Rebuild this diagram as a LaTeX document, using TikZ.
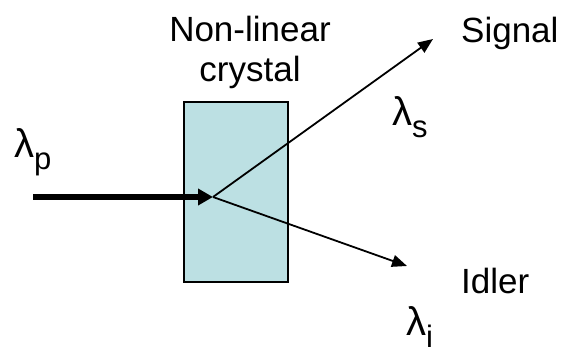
\documentclass[tikz,border=0pt]{standalone}
\usepackage{fontspec}
\setmainfont{Liberation Sans}
\usetikzlibrary{arrows.meta, positioning}

\definecolor{crystalfill}{RGB}{188,224,227}
\newcommand{\lam}[1]{{\fontsize{40}{40}\selectfont λ}\raisebox{-12pt}{#1}}

\begin{document}
\begin{tikzpicture}[
    x=1pt, y=-1pt,
    crystal/.style={rectangle, draw, fill=crystalfill, line width=1.5pt, minimum width=104pt, minimum height=180pt},
    label/.style={inner sep=0pt, anchor=base west, font=\fontsize{35}{40}\selectfont},
    wavelength/.style={inner sep=0pt, anchor=base west, font=\fontsize{31}{31}\selectfont},
    pump/.style={-{Triangle[length=15pt, width=16pt]}, line width=6pt},
    beam/.style={-{Triangle[length=15pt, width=12pt]}, line width=1.8pt}
]
\useasboundingbox (0,0) rectangle (565,354);

% Define nodes
\node[crystal] (crystal) at (236,192) {};
\node[inner sep=0pt, anchor=north, align=center, font=\fontsize{35}{40}\selectfont] (name) at (250,16) {Non-linear\\crystal};
\node[label] (signal) at (461,42) {Signal};
\node[label] (idler) at (461,293) {Idler};
\node[wavelength] (lp) at (14,157) {\lam{p}};
\node[wavelength] (ls) at (392,125) {\lam{s}};
\node[wavelength] (li) at (406,335) {\lam{i}};

% Beam ends
\coordinate (in) at (33,197);
\coordinate (hit) at (213,197);
\coordinate (sig) at (433,39);
\coordinate (idl) at (407,266);

% Define arrows
% pump into the crystal
\draw[pump] (in) -- (hit);

% signal and idler out of it
\draw[beam] (hit) -- (sig);
\draw[beam] (hit) -- (idl);

\end{tikzpicture}
\end{document}
